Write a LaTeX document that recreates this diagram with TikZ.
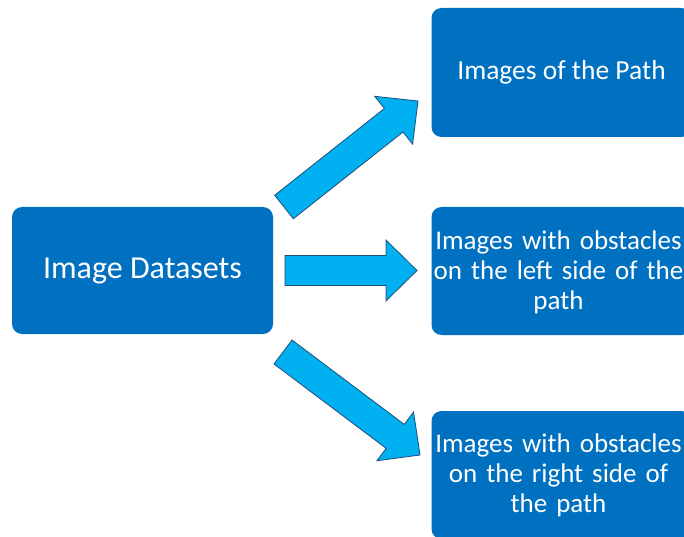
\documentclass[tikz,border=0pt]{standalone}
\usepackage{fontspec}
\setmainfont{Carlito}
\usetikzlibrary{calc}
\definecolor{boxblue}{HTML}{0070C0}
\definecolor{arrowblue}{HTML}{00B0F0}
\definecolor{arrowedge}{HTML}{1F4E79}
\tikzset{
  databox/.style={fill=boxblue, rounded corners=10pt, draw=none,
    text=white, align=center, inner sep=0pt},
  smalltext/.style={font=\fontsize{27.5}{30}\selectfont},
  narrowtext/.style={font=\fontsize{27}{30}\selectfont},
  bigtext/.style={font=\fontsize{32}{36}\selectfont},
  boxtext/.style={narrowtext, text=white, align=center, text width=300pt, inner sep=0pt},
  blockarrow/.style={fill=arrowblue, draw=arrowedge, line width=0.8pt, line join=miter}
}
% block arrow from #1 to #2: shaft 30, head width 61, head length 31
\newcommand{\blockarrowpath}[2]{%
  \path let \p1=(#1), \p2=(#2), \n1={atan2(\y2-\y1,\x2-\x1)},
    \n2={veclen(\x2-\x1,\y2-\y1)} in
    [shift={(\p1)}, rotate=\n1]
    [blockarrow] (0,-15) -- (\n2-31,-15) -- (\n2-31,-30.5) -- (\n2,0)
      -- (\n2-31,30.5) -- (\n2-31,15) -- (0,15) -- cycle;}
\begin{document}
\begin{tikzpicture}[x=1pt,y=1pt]
\clip (0,0) rectangle (684,536);
\fill[white] (0,0) rectangle (684,536);
\node[databox, bigtext, minimum width=261pt, minimum height=127pt] (src) at (142.5,265.5) {Image Datasets};
\node[databox, smalltext, minimum width=260pt, minimum height=129pt] (path) at (561.5,463.5) {Images of the Path};
\node[databox, minimum width=260pt, minimum height=128pt] (left) at (561.5,265) {};
\node[boxtext] (lefttext) at (558.5,264) {Images with obstacles\\on the left side of the\\path};
\node[databox, minimum width=260pt, minimum height=128pt] (right) at (561.5,61) {};
\node[boxtext] (righttext) at (558.5,61) {Images with obstacles\\on the right side of\\the path};
% arrow ends
\coordinate (t1) at (284,329);
\coordinate (h1) at (418,435);
\coordinate (t2) at (285,265.5);
\coordinate (h2) at (417,265.5);
\coordinate (t3) at (283,184);
\coordinate (h3) at (420,81);
\blockarrowpath{t1}{h1}
\blockarrowpath{t2}{h2}
\blockarrowpath{t3}{h3}
\end{tikzpicture}
\end{document}
